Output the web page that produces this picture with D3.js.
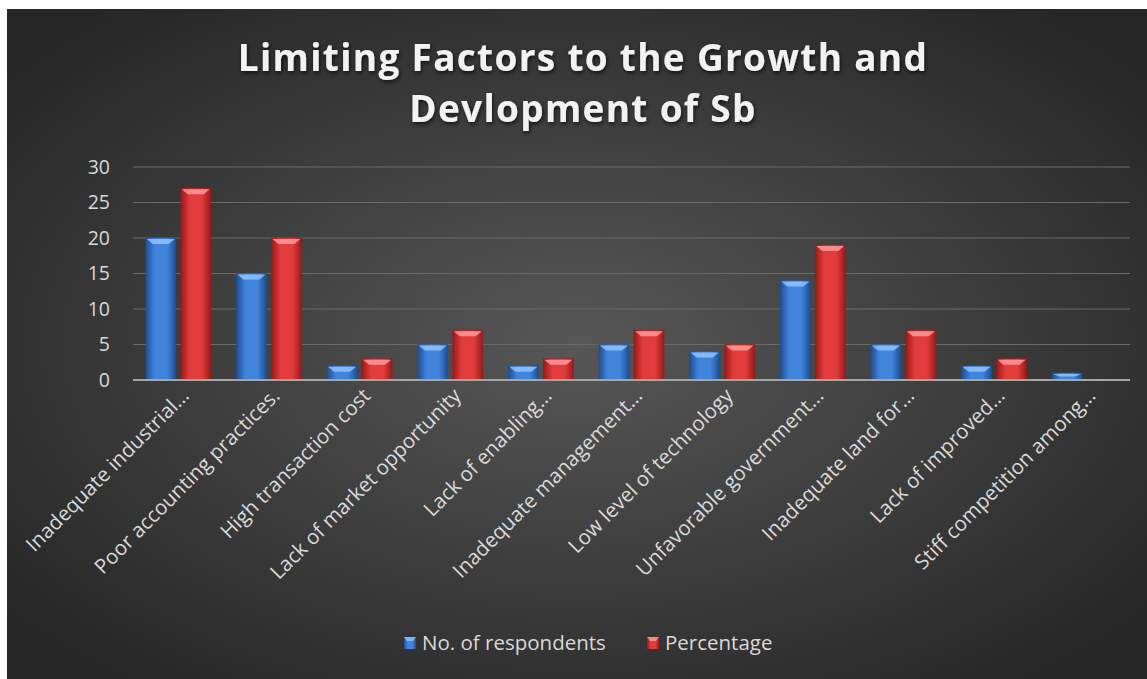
<!DOCTYPE html>
<html>
<head>
<meta charset="utf-8">
<script src="https://cdn.jsdelivr.net/npm/d3@7"></script>
<style>
  body { margin: 0; background: #fff; }
  svg { display: block; }
</style>
</head>
<body>
<script>
(function() {
  "use strict";
  const CATEGORIES = ["Inadequate industrial…", "Poor accounting practices.", "High transaction cost",
      "Lack of market opportunity", "Lack of enabling…", "Inadequate management…",
      "Low level of technology", "Unfavorable  government…", "Inadequate land for…",
      "Lack of improved…", "Stiff competition among…"],
    RESPONDENTS = [20, 15, 2, 5, 2, 5, 4, 14, 5, 2, 1],
    PERCENTAGE = [27, 20, 3, 7, 3, 7, 5, 19, 7, 3, 0],
    SERIES = ["No. of respondents", "Percentage"],
    Y_TICKS = [0, 5, 10, 15, 20, 25, 30];

  const W = 1147, H = 679;
  const svg = d3.select("body").append("svg").attr("width", W).attr("height", H);
  const defs = svg.append("defs");

  const bg = defs.append("radialGradient").attr("id", "bg")
    .attr("cx", "50%").attr("cy", "50%").attr("r", "65%");
  bg.append("stop").attr("offset", "0%").attr("stop-color", "#575757");
  bg.append("stop").attr("offset", "100%").attr("stop-color", "#262626");

  const colors = [
    { id: "gBlue", edge: "#1f4f93", mid: "#4184dc", cap: "#8fc3ff" },
    { id: "gRed", edge: "#9a1a1a", mid: "#e23c3c", cap: "#ff9a9a" }
  ];
  colors.forEach(c => {
    const g = defs.append("linearGradient").attr("id", c.id).attr("x1", 0).attr("x2", 1).attr("y1", 0).attr("y2", 0);
    g.append("stop").attr("offset", "0%").attr("stop-color", c.edge);
    g.append("stop").attr("offset", "30%").attr("stop-color", c.mid);
    g.append("stop").attr("offset", "70%").attr("stop-color", c.mid);
    g.append("stop").attr("offset", "100%").attr("stop-color", c.edge);
  });
  const shadow = defs.append("filter").attr("id", "tshadow").attr("x", "-10%").attr("y", "-20%").attr("width", "120%").attr("height", "150%");
  shadow.append("feDropShadow").attr("dx", 1).attr("dy", 2).attr("stdDeviation", 2).attr("flood-color", "#000").attr("flood-opacity", 0.7);

  svg.append("rect").attr("x", 7).attr("y", 9).attr("width", W - 7).attr("height", H - 9).attr("fill", "url(#bg)");

  // title
  const title = svg.append("text").attr("text-anchor", "middle")
    .attr("font-family", "'Open Sans', sans-serif").attr("font-weight", "bold")
    .attr("font-size", 37).attr("letter-spacing", 1.3).attr("fill", "#f2f2f2")
    .attr("filter", "url(#tshadow)");
  title.append("tspan").attr("x", 583).attr("y", 71).text("Limiting Factors to the Growth and");
  title.append("tspan").attr("x", 583).attr("y", 122).text("Devlopment of Sb");

  const left = 133, right = 1130, top = 167, bottom = 380;
  const x = d3.scaleBand().domain(CATEGORIES).range([left, right]);
  const y = d3.scaleLinear().domain([0, 30]).range([bottom, top]);
  const barW = 30, gap = 5;

  // grid
  svg.append("g").selectAll("line").data(Y_TICKS.filter(d => d > 0)).enter().append("line")
    .attr("x1", left).attr("x2", right).attr("y1", d => y(d)).attr("y2", d => y(d))
    .attr("stroke", "#6a6a6a").attr("stroke-width", 1.2);

  // y labels
  svg.append("g").selectAll("text").data(Y_TICKS).enter().append("text")
    .attr("x", 110).attr("y", d => y(d)).attr("dy", "0.35em").attr("text-anchor", "end")
    .attr("font-family", "'Open Sans', sans-serif").attr("font-size", 19.5).attr("fill", "#d9d9d9")
    .text(d => d);

  // bars
  const data = [RESPONDENTS, PERCENTAGE];
  data.forEach((vals, si) => {
    const c = colors[si];
    const off = si === 0 ? -(barW + gap / 2) : gap / 2;
    const g = svg.append("g");
    const bars = g.selectAll("g").data(vals).enter().append("g")
      .attr("transform", (d, i) => `translate(${x(CATEGORIES[i]) + x.bandwidth() / 2 + off},0)`);
    bars.filter(d => d > 0).append("rect")
      .attr("x", 0).attr("y", d => y(d)).attr("width", barW).attr("height", d => bottom - y(d))
      .attr("fill", `url(#${c.id})`).attr("stroke", c.edge).attr("stroke-opacity", 0.5);
    bars.filter(d => d > 0).append("path")
      .attr("d", d => {
        const t = y(d), h = Math.min(6, (bottom - t) * 0.5);
        return `M1,${t + 1}L${barW - 1},${t + 1}L${barW - 7},${t + h}L7,${t + h}Z`;
      })
      .attr("fill", c.cap).attr("opacity", 0.85);
  });

  // baseline
  svg.append("line").attr("x1", left).attr("x2", right).attr("y1", bottom).attr("y2", bottom)
    .attr("stroke", "#a6a6a6").attr("stroke-width", 2.2);

  // x labels
  svg.append("g").selectAll("text").data(CATEGORIES).enter().append("text")
    .attr("transform", d => `translate(${x(d) + x.bandwidth() / 2 + 7},${bottom + 12}) rotate(-45)`)
    .attr("text-anchor", "end").attr("dy", "0.35em")
    .attr("font-family", "'Open Sans', sans-serif").attr("font-size", 20.5).attr("fill", "#d9d9d9")
    .text(d => d);

  // legend
  const legX = [404, 647];
  const leg = svg.append("g").selectAll("g").data(SERIES).enter().append("g")
    .attr("transform", (d, i) => `translate(${legX[i]},643)`);
  leg.append("rect").attr("x", 0).attr("y", -6).attr("width", 12).attr("height", 12)
    .attr("fill", (d, i) => `url(#${colors[i].id})`);
  leg.append("path").attr("d", "M0,-6L12,-6L9,-2L3,-2Z").attr("fill", (d, i) => colors[i].cap).attr("opacity", 0.8);
  leg.append("text").attr("x", 18).attr("y", 0).attr("dy", "0.35em")
    .attr("font-family", "'Open Sans', sans-serif").attr("font-size", 20.5).attr("fill", "#d9d9d9")
    .text(d => d);
}());
</script>
</body>
</html>
